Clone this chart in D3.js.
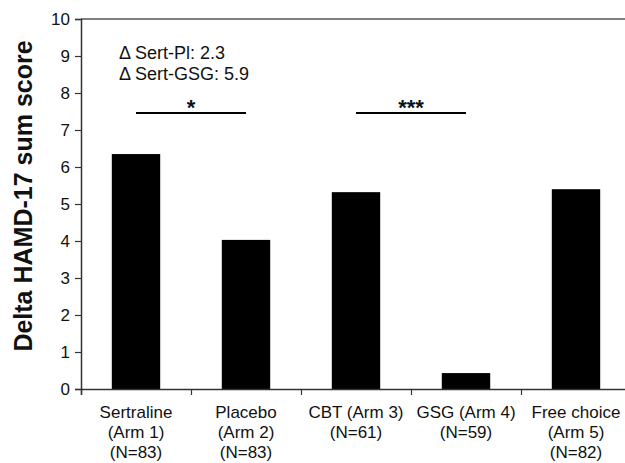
<!DOCTYPE html>
<html>
<head>
<meta charset="utf-8">
<script src="https://cdn.jsdelivr.net/npm/d3@7"></script>
<style>
  body { margin: 0; background: #fff; }
  text { font-family: "Liberation Sans", Arial, sans-serif; fill: #111; }
</style>
</head>
<body>
<div class="chart"></div>
<script>
// data
const categories = ["Sertraline", "Placebo", "CBT", "GSG", "Free choice"];
const catLabels = [
  ["Sertraline", "(Arm 1)", "(N=83)"],
  ["Placebo", "(Arm 2)", "(N=83)"],
  ["CBT (Arm 3)", "(N=61)"],
  ["GSG (Arm 4)", "(N=59)"],
  ["Free choice", "(Arm 5)", "(N=82)"]
];
const values = [6.35, 4.03, 5.32, 0.43, 5.4];
const yTicks = [0, 1, 2, 3, 4, 5, 6, 7, 8, 9, 10];
const sigPairs = [["Sertraline", "Placebo", "*"], ["CBT", "GSG", "***"]];
const sigLevel = 7.46;
const notes = ["\u0394 Sert-Pl: 2.3", "\u0394 Sert-GSG: 5.9"];

const margin = ({top: 19, right: -6, bottom: 74, left: 81});
const W = 625, H = 463;
const width = W - margin.left - margin.right;
const height = H - margin.top - margin.bottom;

const svg = d3.select('.chart')
  .append('svg')
  .attr('width', W)
  .attr('height', H)
  .append('g')
  .attr('transform', `translate(${margin.left}, ${margin.top})`);

const x = d3.scaleBand()
  .domain(categories)
  .range([0, width])
  .padding(0);

const y = d3.scaleLinear()
  .domain([0, 10])
  .range([height, 0]);

const barW = x.bandwidth() * 0.44;

// bars
svg.selectAll('rect.bar')
  .data(values)
  .enter()
  .append('rect')
  .attr('class', 'bar')
  .attr('x', (d, i) => x(categories[i]) + (x.bandwidth() - barW) / 2)
  .attr('y', d => y(d))
  .attr('width', barW)
  .attr('height', d => height - y(d))
  .attr('fill', '#000');

// top border of plot area
svg.append('line')
  .attr('x1', 0).attr('x2', width)
  .attr('y1', 0).attr('y2', 0)
  .attr('stroke', '#555')
  .attr('stroke-width', 1.5);

// y axis
const yAxis = d3.axisLeft(y)
  .tickValues(yTicks)
  .tickSize(6)
  .tickPadding(5)
  .tickFormat(d3.format('d'));

const gy = svg.append('g').call(yAxis);
gy.select('.domain').attr('stroke', '#333').attr('stroke-width', 1.5);
gy.selectAll('.tick line').attr('stroke', '#333').attr('stroke-width', 1.2);
gy.selectAll('.tick text')
  .style('font-size', '17px')
  .style('font-family', '"Liberation Sans", Arial, sans-serif')
  .attr('fill', '#111');

// x axis: ticks at category boundaries
const xEdges = d3.scaleLinear().domain([0, categories.length]).range([0, width]);
const xAxis = d3.axisBottom(xEdges)
  .ticks(categories.length)
  .tickSize(6)
  .tickFormat('');
const gx = svg.append('g')
  .attr('transform', `translate(0, ${height})`)
  .call(xAxis);
gx.select('.domain').attr('stroke', '#333').attr('stroke-width', 1.5);
gx.selectAll('.tick line').attr('stroke', '#333').attr('stroke-width', 1.2);

// category labels
const lab = svg.selectAll('text.cat')
  .data(catLabels)
  .enter()
  .append('text')
  .attr('class', 'cat')
  .attr('x', (d, i) => x(categories[i]) + x.bandwidth() / 2)
  .attr('y', height + 29)
  .attr('text-anchor', 'middle')
  .style('font-size', '17px');
lab.selectAll('tspan')
  .data(d => d)
  .enter()
  .append('tspan')
  .attr('x', function() { return this.parentNode.getAttribute('x'); })
  .attr('dy', (d, i) => i === 0 ? 0 : 20)
  .text(d => d);

// significance bars
sigPairs.forEach(p => {
  const x1 = x(p[0]) + x.bandwidth() / 2;
  const x2 = x(p[1]) + x.bandwidth() / 2;
  svg.append('line')
    .attr('x1', x1).attr('x2', x2)
    .attr('y1', y(sigLevel)).attr('y2', y(sigLevel))
    .attr('stroke', '#000')
    .attr('stroke-width', 2);
  svg.append('text')
    .attr('x', (x1 + x2) / 2)
    .attr('y', y(sigLevel) + 2)
    .attr('text-anchor', 'middle')
    .style('font-size', '22px')
    .style('font-weight', 'bold')
    .text(p[2]);
});

// delta notes
svg.selectAll('text.note')
  .data(notes)
  .enter()
  .append('text')
  .attr('class', 'note')
  .attr('x', 38)
  .attr('y', (d, i) => 40 + i * 21)
  .style('font-size', '18px')
  .text(d => d);

// y axis title
svg.append('text')
  .attr('transform', `translate(${-49}, ${177}) rotate(-90)`)
  .attr('text-anchor', 'middle')
  .style('font-size', '25px')
  .style('font-weight', 'bold')
  .text('Delta HAMD-17 sum score');
</script>
</body>
</html>
